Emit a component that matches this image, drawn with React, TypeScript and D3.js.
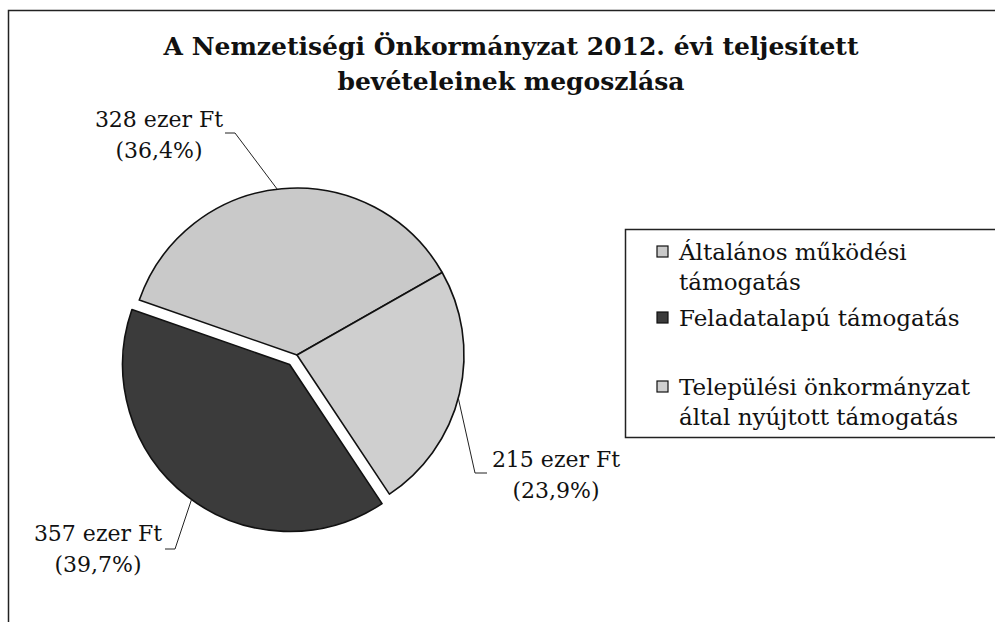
import React from "react";
import * as d3 from "d3";

const categories = [
  "Általános működési támogatás",
  "Feladatalapú támogatás",
  "Települési önkormányzat által nyújtott támogatás",
];
const values = [328, 357, 215];
const percentLabels = ["36,4%", "39,7%", "23,9%"];
const legendLines = [
  ["Általános működési", "támogatás"],
  ["Feladatalapú támogatás"],
  ["Települési önkormányzat", "által nyújtott támogatás"],
];
const titleLines = [
  "A Nemzetiségi Önkormányzat 2012. évi teljesített",
  "bevételeinek megoszlása",
];
// clockwise drawing order starting from the first slice angle
const drawOrder = [0, 2, 1];

const W = 995;
const H = 622;
const cx = 297;
const cy = 355;
const R = 167;
const rad = (d: number) => (d * Math.PI) / 180;
const startDeg = -70.8;

const fills = ["#c9c9c9", "#3b3b3b", "#cfcfcf"];
const explode = [0, 12, 0];

// label layout (positions of text and leader elbows)
const labelLayout = [
  { tx: 159, ty: 127, lead: -6.8, elbow: [235, 133], end: [225, 133] },
  { tx: 98, ty: 541, lead: 216, elbow: [175, 549], end: [165, 549] },
  { tx: 556, ty: 467, lead: 105, elbow: [475, 473], end: [487, 473] },
];

export default function App() {
  const ordered = drawOrder.map((i) => ({ i, v: values[i] }));
  const pie = d3
    .pie<{ i: number; v: number }>()
    .sort(null)
    .value((d) => d.v)
    .startAngle(rad(startDeg))
    .endAngle(rad(startDeg) + 2 * Math.PI);
  const arcs = pie(ordered);
  const arc = d3.arc<d3.PieArcDatum<{ i: number; v: number }>>()
    .innerRadius(0)
    .outerRadius(R);

  const offsetOf = (a: d3.PieArcDatum<{ i: number; v: number }>) => {
    const m = (a.startAngle + a.endAngle) / 2;
    const e = explode[a.data.i];
    return [Math.sin(m) * e, -Math.cos(m) * e];
  };

  const font = "'DejaVu Serif', serif";

  return (
    <svg
      width={W}
      height={H}
      style={{ position: "absolute", left: 0, top: 0, background: "#fff" }}
    >
      <rect x={8.5} y={10.5} width={W + 20} height={H + 20} fill="#fff" stroke="#222" strokeWidth={1.5} />
      {titleLines.map((t, k) => (
        <text
          key={k}
          x={511}
          y={55 + k * 35}
          textAnchor="middle"
          fontFamily={font}
          fontWeight="bold"
          fontSize={25}
          fill="#111"
        >
          {t}
        </text>
      ))}

      <g transform={`translate(${cx},${cy})`}>
        {arcs.map((a) => {
          const [dx, dy] = offsetOf(a);
          return (
            <path
              key={a.data.i}
              d={arc(a) || ""}
              transform={`translate(${dx},${dy})`}
              fill={fills[a.data.i]}
              stroke="#111"
              strokeWidth={1.6}
              strokeLinejoin="round"
            />
          );
        })}
      </g>

      {arcs.map((a) => {
        const i = a.data.i;
        const L = labelLayout[i];
        const [dx, dy] = offsetOf(a);
        const ang = rad(L.lead);
        const px = cx + dx + Math.sin(ang) * R;
        const py = cy + dy - Math.cos(ang) * R;
        return (
          <g key={"l" + i}>
            <polyline
              points={`${px},${py} ${L.elbow[0]},${L.elbow[1]} ${L.end[0]},${L.end[1]}`}
              fill="none"
              stroke="#222"
              strokeWidth={1}
            />
            <text x={L.tx} y={L.ty} textAnchor="middle" fontFamily={font} fontSize={22} fill="#111">
              {`${values[i]} ezer Ft`}
            </text>
            <text x={L.tx} y={L.ty + 31} textAnchor="middle" fontFamily={font} fontSize={22} fill="#111">
              {`(${percentLabels[i]})`}
            </text>
          </g>
        );
      })}

      <rect x={625.5} y={229.5} width={400} height={208} fill="#fff" stroke="#222" strokeWidth={1.5} />
      {categories.map((c, i) => {
        const baseY = [260, 326, 395][i];
        return (
          <g key={"lg" + i}>
            <rect
              x={657}
              y={baseY - 14}
              width={11}
              height={11}
              fill={fills[i]}
              stroke="#111"
              strokeWidth={1.2}
            />
            {legendLines[i].map((ln, k) => (
              <text
                key={k}
                x={679}
                y={baseY + k * 30}
                fontFamily={font}
                fontSize={23}
                fill="#111"
              >
                {ln}
              </text>
            ))}
          </g>
        );
      })}
    </svg>
  );
}
